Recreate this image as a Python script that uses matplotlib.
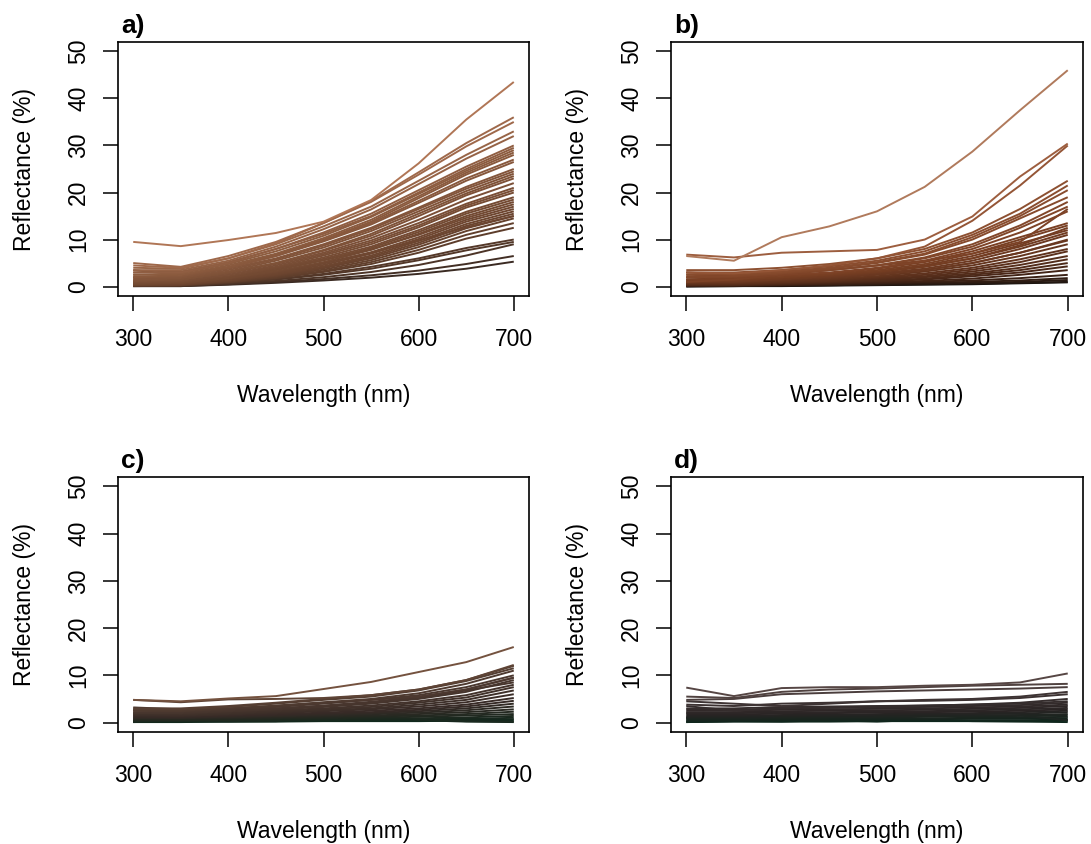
import matplotlib
matplotlib.use("Agg")
import matplotlib.pyplot as plt
from matplotlib.colors import LinearSegmentedColormap, PowerNorm
import numpy as np

plt.rcParams['font.family'] = ['Liberation Sans', 'DejaVu Sans']

wavelengths = [300, 350, 400, 450, 500, 550, 600, 650, 700]

spectra_a = [
    [9.5, 8.6, 9.9, 11.4, 13.8, 18.4, 26.2, 35.5, 43.5],
    [4.5, 4.0, 6.0, 9.2, 13.5, 18.2, 24.3, 30.5, 36.0],
    [5.0, 4.2, 6.5, 9.5, 13.5, 18.0, 23.8, 29.8, 35.0],
    [4.0, 3.8, 6.0, 9.0, 12.8, 17.0, 22.5, 28.0, 33.0],
    [3.5, 3.5, 5.5, 8.5, 12.2, 16.4, 21.8, 27.2, 32.0],
    [3.0, 3.0, 5.0, 8.0, 11.5, 15.5, 20.5, 25.5, 30.0],
    [3.0, 3.2, 5.2, 8.0, 11.2, 15.0, 20.0, 25.0, 29.5],
    [2.5, 2.8, 4.8, 7.5, 10.8, 14.8, 19.7, 24.6, 29.0],
    [2.5, 2.5, 4.5, 7.0, 10.3, 14.2, 19.2, 24.2, 28.5],
    [2.0, 2.5, 4.2, 6.8, 10.0, 13.8, 18.8, 23.8, 28.0],
    [3.5, 2.5, 4.0, 6.5, 9.8, 13.5, 18.2, 23.0, 27.0],
    [2.0, 2.2, 4.0, 6.5, 9.6, 13.2, 17.8, 22.5, 26.5],
    [1.8, 2.0, 3.8, 6.0, 9.0, 12.5, 16.8, 21.2, 25.0],
    [1.5, 1.8, 3.5, 5.8, 8.7, 12.2, 16.5, 20.8, 24.5],
    [1.5, 1.8, 3.2, 5.5, 8.3, 11.8, 16.0, 20.3, 24.0],
    [1.2, 1.5, 3.0, 5.0, 7.8, 11.2, 15.5, 19.8, 23.5],
    [2.0, 1.5, 3.0, 5.0, 7.6, 10.8, 15.0, 19.4, 23.0],
    [1.2, 1.5, 2.8, 4.8, 7.2, 10.3, 14.2, 18.5, 22.0],
    [1.0, 1.2, 2.5, 4.5, 6.9, 9.8, 13.5, 17.6, 21.0],
    [1.0, 1.2, 2.5, 4.2, 6.6, 9.4, 13.0, 17.2, 20.5],
    [0.8, 1.0, 2.2, 4.0, 6.2, 9.0, 12.6, 16.8, 20.0],
    [0.8, 1.0, 2.0, 3.8, 5.9, 8.5, 12.0, 15.9, 19.0],
    [0.6, 0.8, 1.8, 3.5, 5.6, 8.2, 11.6, 15.5, 18.5],
    [0.6, 0.8, 1.8, 3.2, 5.2, 7.8, 11.2, 15.0, 18.0],
    [1.0, 0.8, 2.0, 3.5, 5.6, 7.9, 11.0, 14.6, 17.5],
    [0.5, 0.7, 1.6, 3.0, 4.9, 7.3, 10.5, 14.2, 17.0],
    [0.5, 0.6, 1.5, 2.8, 4.6, 7.0, 10.1, 13.8, 16.5],
    [0.4, 0.5, 1.4, 2.6, 4.3, 6.6, 9.7, 13.3, 16.0],
    [0.4, 0.5, 1.3, 2.5, 4.1, 6.3, 9.3, 12.9, 15.5],
    [0.5, 0.5, 1.5, 3.0, 5.0, 7.2, 9.8, 12.6, 15.0],
    [0.3, 0.4, 1.2, 2.3, 3.9, 6.0, 8.9, 12.4, 15.0],
    [0.3, 0.4, 1.1, 2.2, 3.6, 5.6, 8.4, 11.8, 14.5],
    [0.3, 0.3, 1.0, 2.0, 3.3, 5.2, 7.8, 11.0, 13.5],
    [0.2, 0.3, 0.9, 1.8, 3.1, 4.8, 7.2, 10.2, 12.5],
    [0.2, 0.3, 0.8, 1.6, 2.7, 4.2, 6.0, 8.2, 10.0],
    [0.2, 0.2, 0.8, 1.5, 2.5, 3.8, 5.6, 7.7, 9.5],
    [0.1, 0.2, 0.6, 1.2, 2.0, 3.1, 4.6, 6.6, 9.0],
    [0.1, 0.1, 0.5, 1.0, 1.6, 2.4, 3.4, 4.8, 6.5],
    [0.1, 0.1, 0.4, 0.8, 1.3, 1.9, 2.7, 3.8, 5.3],
]

spectra_b = [
    [6.5, 5.5, 10.5, 12.8, 16.0, 21.2, 28.7, 37.5, 46.0],
    [6.8, 6.2, 7.2, 7.5, 7.8, 10.0, 14.9, 23.4, 30.4],
    [3.0, 2.8, 3.5, 4.5, 6.0, 8.5, 14.0, 21.5, 30.0],
    [3.5, 3.5, 4.0, 4.8, 6.0, 8.0, 11.5, 16.5, 22.5],
    [3.0, 3.0, 3.5, 4.3, 5.5, 7.5, 11.0, 15.5, 21.5],
    [2.5, 2.8, 3.2, 4.0, 5.2, 7.0, 10.5, 15.0, 20.5],
    [3.0, 2.5, 3.0, 3.8, 5.0, 6.8, 10.0, 14.5, 19.0],
    [2.0, 2.2, 2.8, 3.5, 4.5, 6.2, 9.0, 13.0, 18.0],
    [2.5, 2.3, 2.8, 3.5, 4.5, 6.0, 8.5, 12.5, 17.0],
    [1.0, 1.5, 2.5, 3.5, 4.5, 5.5, 7.0, 9.5, 16.5],
    [2.0, 2.0, 2.5, 3.0, 4.0, 5.5, 8.0, 11.5, 16.0],
    [1.5, 1.8, 2.3, 2.8, 3.8, 5.2, 7.5, 10.5, 13.5],
    [2.0, 1.5, 2.0, 2.5, 3.2, 4.3, 6.0, 8.8, 12.5],
    [1.5, 1.5, 2.0, 2.6, 3.5, 4.8, 7.0, 10.0, 13.0],
    [1.2, 1.3, 1.8, 2.4, 3.2, 4.5, 6.5, 9.2, 12.0],
    [1.0, 1.2, 1.6, 2.2, 3.0, 4.2, 6.0, 8.5, 11.5],
    [1.0, 1.0, 1.5, 2.0, 2.8, 3.8, 5.5, 8.0, 11.0],
    [1.5, 1.2, 1.6, 2.0, 2.6, 3.5, 5.0, 7.2, 9.8],
    [0.8, 1.0, 1.4, 1.8, 2.5, 3.5, 5.0, 7.2, 10.0],
    [0.8, 0.8, 1.2, 1.6, 2.2, 3.2, 4.5, 6.5, 9.0],
    [0.6, 0.7, 1.0, 1.4, 2.0, 2.8, 4.0, 5.8, 8.0],
    [0.5, 0.6, 0.9, 1.2, 1.8, 2.5, 3.6, 5.2, 7.5],
    [0.5, 0.5, 0.8, 1.1, 1.6, 2.2, 3.2, 4.6, 6.5],
    [0.4, 0.4, 0.7, 1.0, 1.4, 2.0, 2.8, 4.0, 5.8],
    [0.3, 0.4, 0.6, 0.9, 1.2, 1.7, 2.5, 3.5, 5.0],
    [0.3, 0.3, 0.5, 0.8, 1.1, 1.5, 2.2, 3.0, 4.3],
    [0.2, 0.3, 0.4, 0.6, 0.9, 1.2, 1.7, 2.5, 3.5],
    [0.2, 0.2, 0.4, 0.5, 0.7, 1.0, 1.3, 1.8, 2.5],
    [0.1, 0.2, 0.3, 0.4, 0.6, 0.8, 1.0, 1.3, 1.8],
    [0.1, 0.1, 0.2, 0.3, 0.4, 0.6, 0.8, 1.0, 1.4],
    [0.1, 0.1, 0.2, 0.3, 0.4, 0.5, 0.6, 0.8, 1.0],
    [0.0, 0.1, 0.1, 0.2, 0.3, 0.4, 0.5, 0.7, 0.9],
]

spectra_c = [
    [4.8, 4.5, 5.1, 5.6, 7.1, 8.6, 10.7, 12.8, 16.0],
    [4.8, 4.3, 4.9, 5.0, 5.2, 5.8, 7.0, 9.0, 12.2],
    [3.0, 3.0, 3.5, 4.2, 5.0, 5.8, 7.0, 9.0, 12.0],
    [2.8, 2.8, 3.3, 4.0, 4.8, 5.5, 6.8, 8.8, 11.5],
    [3.2, 2.8, 3.0, 3.5, 4.2, 4.8, 5.5, 7.0, 9.5],
    [2.5, 2.5, 3.0, 3.6, 4.3, 5.0, 6.2, 8.2, 11.0],
    [2.5, 2.4, 2.8, 3.3, 4.0, 4.8, 5.8, 7.5, 10.0],
    [2.7, 2.2, 2.5, 3.0, 3.5, 4.2, 5.2, 6.8, 8.5],
    [2.2, 2.2, 2.6, 3.0, 3.6, 4.4, 5.4, 7.0, 9.5],
    [2.0, 2.0, 2.4, 2.8, 3.3, 4.0, 5.0, 6.5, 9.0],
    [2.0, 1.8, 2.2, 2.6, 3.0, 3.6, 4.5, 5.8, 8.0],
    [1.8, 1.7, 2.0, 2.4, 2.8, 3.3, 4.2, 5.3, 7.5],
    [1.6, 1.5, 1.8, 2.2, 2.6, 3.0, 3.8, 4.8, 6.8],
    [1.5, 1.4, 1.7, 2.0, 2.4, 2.8, 3.4, 4.3, 6.0],
    [1.3, 1.3, 1.5, 1.8, 2.1, 2.5, 3.0, 3.8, 5.2],
    [1.2, 1.1, 1.4, 1.6, 1.9, 2.2, 2.7, 3.4, 4.6],
    [1.0, 1.0, 1.2, 1.4, 1.7, 2.0, 2.4, 3.0, 4.0],
    [0.9, 0.9, 1.1, 1.3, 1.5, 1.8, 2.1, 2.6, 3.4],
    [0.8, 0.8, 0.9, 1.1, 1.3, 1.5, 1.8, 2.2, 2.8],
    [0.6, 0.6, 0.8, 0.9, 1.1, 1.3, 1.5, 1.8, 2.3],
    [0.5, 0.5, 0.6, 0.8, 0.9, 1.1, 1.2, 1.5, 1.8],
    [0.4, 0.4, 0.5, 0.6, 0.7, 0.8, 0.9, 1.1, 1.4],
    [0.3, 0.3, 0.4, 0.5, 0.6, 0.7, 0.7, 0.8, 1.0],
    [0.2, 0.2, 0.3, 0.3, 0.4, 0.5, 0.5, 0.6, 0.7],
    [0.1, 0.1, 0.2, 0.2, 0.3, 0.3, 0.3, 0.4, 0.5],
    [0.2, 0.5, 0.3, 0.4, 1.5, 1.8, 0.6, 0.3, 0.2],
    [0.1, 0.3, 0.2, 0.3, 0.8, 1.2, 0.5, 0.2, 0.1],
]

spectra_d = [
    [7.4, 5.6, 7.3, 7.5, 7.5, 7.8, 8.0, 8.5, 10.4],
    [5.5, 5.2, 6.5, 7.0, 7.2, 7.5, 7.8, 8.0, 8.2],
    [4.8, 5.0, 6.0, 6.3, 6.6, 6.8, 7.0, 7.2, 7.5],
    [4.5, 4.0, 3.5, 4.0, 4.5, 4.8, 5.0, 5.5, 6.5],
    [3.8, 3.5, 4.0, 4.2, 4.5, 4.6, 4.8, 5.2, 6.0],
    [3.5, 2.5, 3.0, 3.2, 3.4, 3.6, 3.8, 4.2, 5.0],
    [3.0, 3.0, 3.3, 3.4, 3.5, 3.6, 3.8, 4.0, 4.5],
    [2.8, 2.7, 3.0, 3.1, 3.2, 3.3, 3.5, 3.7, 4.2],
    [2.5, 2.5, 2.7, 2.8, 2.9, 3.0, 3.2, 3.4, 3.8],
    [2.2, 2.2, 2.4, 2.5, 2.6, 2.7, 2.9, 3.1, 3.5],
    [2.0, 2.0, 2.1, 2.2, 2.3, 2.4, 2.6, 2.8, 3.1],
    [1.8, 1.7, 1.9, 2.0, 2.1, 2.2, 2.3, 2.5, 2.8],
    [1.5, 1.5, 1.6, 1.7, 1.8, 1.9, 2.0, 2.2, 2.5],
    [1.3, 1.3, 1.4, 1.5, 1.6, 1.7, 1.8, 1.9, 2.2],
    [1.1, 1.1, 1.2, 1.3, 1.3, 1.4, 1.5, 1.6, 1.8],
    [1.0, 1.0, 1.2, 1.3, 1.4, 1.5, 1.6, 1.5, 0.5],
    [0.9, 0.9, 1.0, 1.1, 1.1, 1.2, 1.3, 1.4, 1.5],
    [0.7, 0.7, 0.8, 0.8, 0.9, 0.9, 1.0, 1.1, 1.2],
    [0.5, 0.5, 0.6, 0.6, 0.7, 0.7, 0.8, 0.8, 0.9],
    [0.3, 0.3, 0.4, 0.4, 0.4, 0.5, 0.5, 0.5, 0.6],
    [0.1, 0.2, 0.2, 0.2, 0.3, 0.3, 0.3, 0.3, 0.4],
    [0.1, 0.3, 0.2, 0.5, 0.2, 0.6, 0.3, 0.2, 0.1],
]

panel_labels = ["a)", "b)", "c)", "d)"]
x_ticks = [300, 400, 500, 600, 700]
y_ticks = [0, 10, 20, 30, 40, 50]

panel_cmaps = [
    ["#3a2a22", "#6e4630", "#8a5a3e", "#b07656"],
    ["#15110e", "#4a2818", "#7a4024", "#9a5a3a", "#b07a5c"],
    ["#10281c", "#362a26", "#4e3a30", "#74523f"],
    ["#0e261c", "#2a2424", "#3e3434", "#564644"],
]
panel_gamma = [0.8, 0.5, 0.8, 0.8]

fig = plt.figure(figsize=(10.91, 8.44), dpi=100)
positions = [
    [118 / 1091, 1 - 296 / 844, 411 / 1091, 254 / 844],
    [671 / 1091, 1 - 296 / 844, 412 / 1091, 254 / 844],
    [118 / 1091, 1 - 732 / 844, 411 / 1091, 255 / 844],
    [671 / 1091, 1 - 732 / 844, 412 / 1091, 255 / 844],
]

all_spectra = [spectra_a, spectra_b, spectra_c, spectra_d]

for i, (spectra, pos) in enumerate(zip(all_spectra, positions)):
    ax = fig.add_axes(pos)
    cmap = LinearSegmentedColormap.from_list("p%d" % i, panel_cmaps[i])
    means = [np.mean(s) for s in spectra]
    norm = PowerNorm(gamma=panel_gamma[i], vmin=min(means), vmax=max(means))
    order = np.argsort(means)
    for k in order:
        ax.plot(wavelengths, spectra[k], color=cmap(norm(means[k])), lw=1.4,
                solid_joinstyle="round", solid_capstyle="butt")
    ax.set_xlim(284, 716)
    ax.set_ylim(-2, 52)
    ax.set_xticks(x_ticks)
    ax.set_yticks(y_ticks)
    ax.tick_params(direction="out", length=11, width=1.1, labelsize=16.5)
    ax.tick_params(axis="x", pad=12)
    ax.tick_params(axis="y", pad=9)
    for lbl in ax.get_yticklabels():
        lbl.set_rotation(90)
        lbl.set_va("center")
    for sp in ax.spines.values():
        sp.set_linewidth(1.2)
    ax.set_xlabel("Wavelength (nm)", fontsize=16.5)
    ax.set_ylabel("Reflectance (%)", fontsize=16.5)
    ax.xaxis.set_label_coords(0.5, -0.39)
    ax.xaxis.label.set_va("center")
    ax.yaxis.set_label_coords(-0.228, 0.5)
    ax.yaxis.label.set_va("center")
    ax.text(0.007, 1.036, panel_labels[i], transform=ax.transAxes,
            fontsize=19, fontweight="bold", va="baseline", ha="left")

fig.savefig("out.png", dpi=100)
